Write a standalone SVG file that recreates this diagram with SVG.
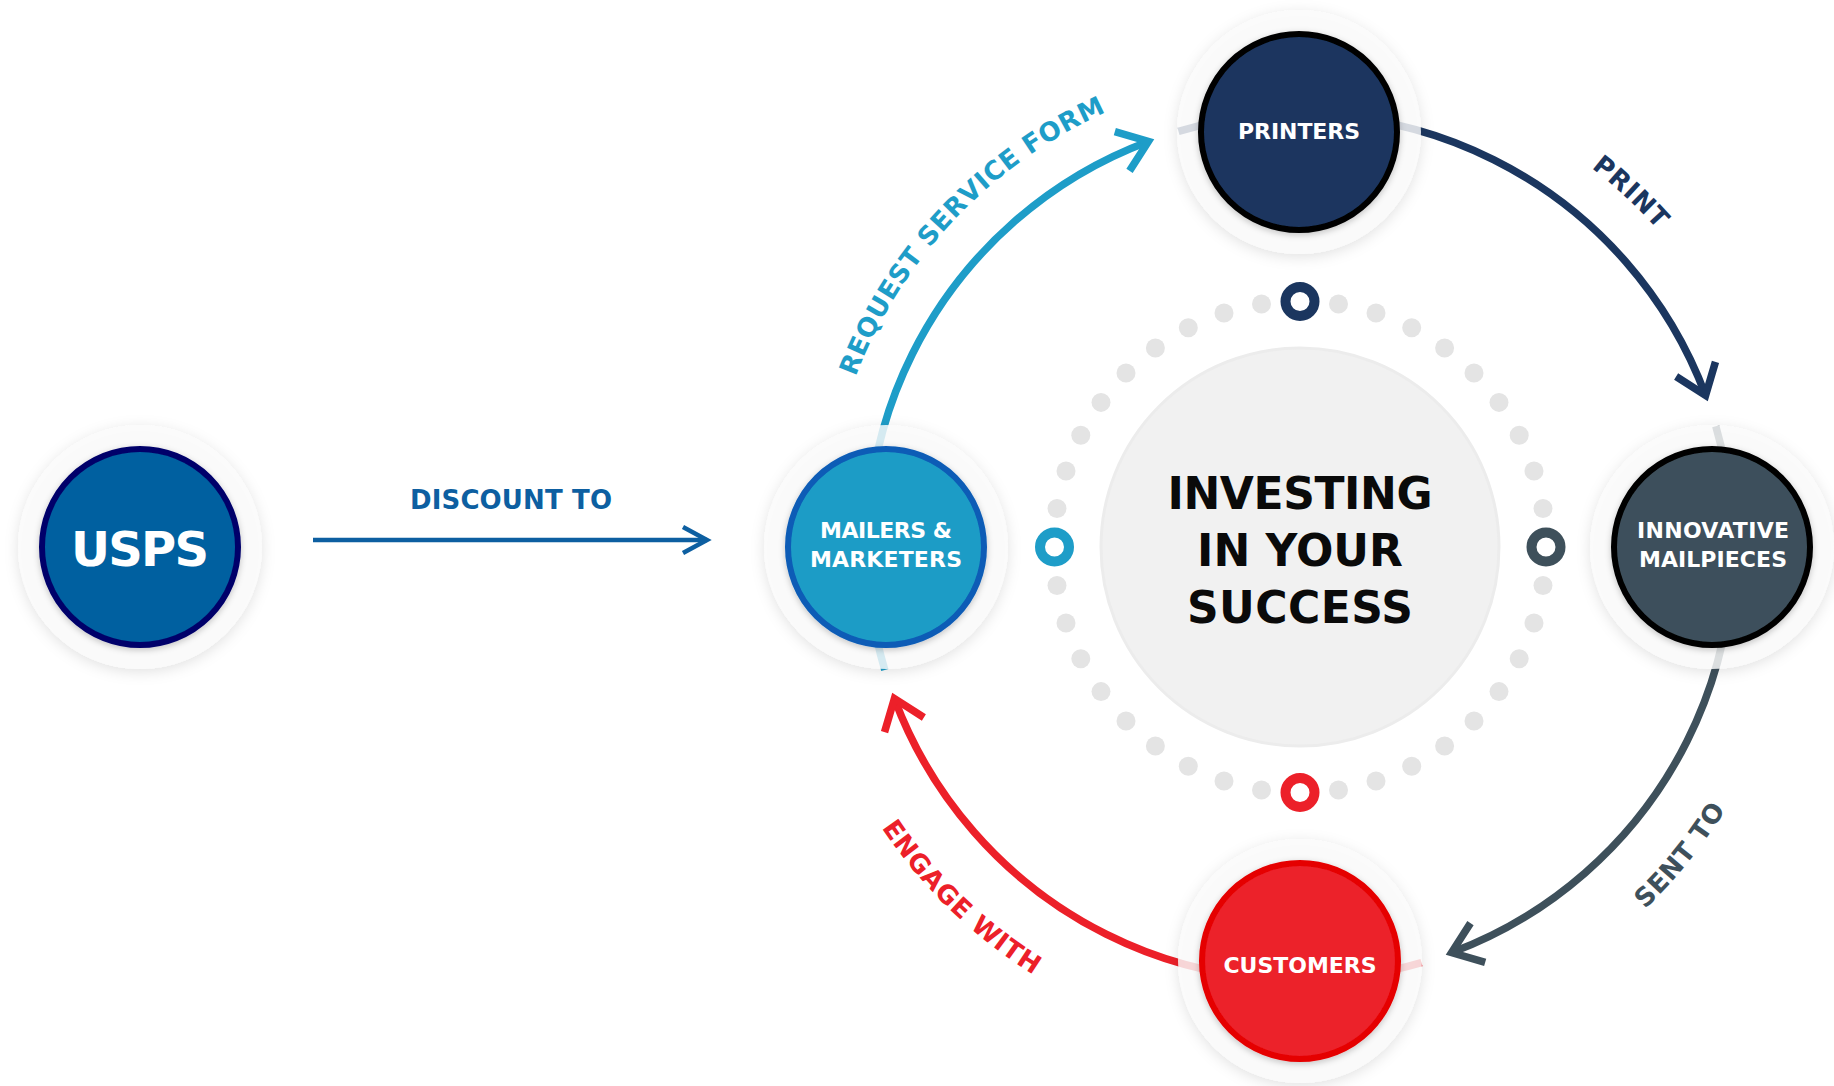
<svg xmlns="http://www.w3.org/2000/svg" xmlns:xlink="http://www.w3.org/1999/xlink" width="1834" height="1086" viewBox="0 0 1834 1086">
<style>
  .halo { fill: #fbfbfb; fill-opacity: 0.82; filter: url(#haloShadow); }
  .core { stroke-width: 6; filter: url(#coreShadow); }
  .lbl { font-family: "DejaVu Sans", "Liberation Sans", sans-serif; font-weight: bold; fill: #ffffff; text-anchor: middle; font-size: 22px; }
  .hub { font-family: "DejaVu Sans", "Liberation Sans", sans-serif; font-weight: bold; fill: #0a0a0a; text-anchor: middle; font-size: 44px; }
  .arc { fill: none; stroke-width: 7.5; stroke-linecap: butt; }
  .arclbl { font-family: "DejaVu Sans", "Liberation Sans", sans-serif; font-weight: bold; font-size: 26px; letter-spacing: 0.6px; text-anchor: middle; }
  .dot { fill: #e4e4e4; }
  .ring { fill: #ffffff; stroke-width: 10; }
</style>
<defs>
  <filter id="haloShadow" x="-30%" y="-30%" width="160%" height="160%">
    <feDropShadow dx="0" dy="3" stdDeviation="7" flood-color="#000000" flood-opacity="0.14"/>
  </filter>
  <filter id="coreShadow" x="-20%" y="-20%" width="140%" height="140%">
    <feDropShadow dx="0" dy="2" stdDeviation="3" flood-color="#000000" flood-opacity="0.22"/>
  </filter>
  <marker id="mBlue" markerUnits="userSpaceOnUse" orient="auto" markerWidth="80" markerHeight="80" refX="0" refY="0" viewBox="-40 -40 80 80" overflow="visible">
    <path d="M -28 -21 L 0 0 L -28 21" fill="none" stroke="#1e9dc8" stroke-width="7.5"/>
  </marker>
  <marker id="mNavy" markerUnits="userSpaceOnUse" orient="auto" markerWidth="80" markerHeight="80" refX="0" refY="0" viewBox="-40 -40 80 80" overflow="visible">
    <path d="M -28 -21 L 0 0 L -28 21" fill="none" stroke="#1b365f" stroke-width="7.5"/>
  </marker>
  <marker id="mSlate" markerUnits="userSpaceOnUse" orient="auto" markerWidth="80" markerHeight="80" refX="0" refY="0" viewBox="-40 -40 80 80" overflow="visible">
    <path d="M -28 -21 L 0 0 L -28 21" fill="none" stroke="#3e505b" stroke-width="7.5"/>
  </marker>
  <marker id="mRed" markerUnits="userSpaceOnUse" orient="auto" markerWidth="80" markerHeight="80" refX="0" refY="0" viewBox="-40 -40 80 80" overflow="visible">
    <path d="M -28 -21 L 0 0 L -28 21" fill="none" stroke="#ec2029" stroke-width="7.5"/>
  </marker>
  <marker id="mDisc" markerUnits="userSpaceOnUse" orient="auto" markerWidth="60" markerHeight="60" refX="0" refY="0" viewBox="-30 -30 60 60" overflow="visible">
    <path d="M -24 -13 L 0 0 L -24 13" fill="none" stroke="#0d5fa1" stroke-width="4.5"/>
  </marker>
  <path id="tpRequest" d="M 824.2 559.5 A 476 476 0 0 1 1287.5 71.2"/>
  <path id="tpPrint" d="M 1283.3 69.3 A 478 478 0 0 1 1777.7 530.3"/>
  <path id="tpSent" d="M 1352.3 1044.3 A 500 500 0 0 0 1797.3 494.7"/>
  <path id="tpEngage" d="M 796.1 555.8 A 504 504 0 0 0 1308.8 1050.9"/>
</defs>

<g id="hub">
  <circle cx="1300" cy="547" r="199" fill="#f1f1f1" stroke="#ececec" stroke-width="3"/>
  <text class="hub" x="1300" y="509" textLength="265">INVESTING</text>
  <text class="hub" x="1300" y="566" textLength="206">IN YOUR</text>
  <text class="hub" x="1300" y="623" textLength="226">SUCCESS</text>
</g>

<g id="dots">
  <circle class="dot" cx="1543" cy="585.5" r="9.5"/><circle class="dot" cx="1534" cy="623" r="9.5"/><circle class="dot" cx="1519.2" cy="658.7" r="9.5"/><circle class="dot" cx="1499" cy="691.6" r="9.5"/><circle class="dot" cx="1474" cy="721" r="9.5"/><circle class="dot" cx="1444.6" cy="746" r="9.5"/><circle class="dot" cx="1411.7" cy="766.2" r="9.5"/><circle class="dot" cx="1376" cy="781" r="9.5"/><circle class="dot" cx="1338.5" cy="790" r="9.5"/>
  <circle class="dot" cx="1057" cy="585.5" r="9.5"/><circle class="dot" cx="1066" cy="623" r="9.5"/><circle class="dot" cx="1080.8" cy="658.7" r="9.5"/><circle class="dot" cx="1101" cy="691.6" r="9.5"/><circle class="dot" cx="1126" cy="721" r="9.5"/><circle class="dot" cx="1155.4" cy="746" r="9.5"/><circle class="dot" cx="1188.3" cy="766.2" r="9.5"/><circle class="dot" cx="1224" cy="781" r="9.5"/><circle class="dot" cx="1261.5" cy="790" r="9.5"/>
  <circle class="dot" cx="1057" cy="508.5" r="9.5"/><circle class="dot" cx="1066" cy="471" r="9.5"/><circle class="dot" cx="1080.8" cy="435.3" r="9.5"/><circle class="dot" cx="1101" cy="402.4" r="9.5"/><circle class="dot" cx="1126" cy="373" r="9.5"/><circle class="dot" cx="1155.4" cy="348" r="9.5"/><circle class="dot" cx="1188.3" cy="327.8" r="9.5"/><circle class="dot" cx="1224" cy="313" r="9.5"/><circle class="dot" cx="1261.5" cy="304" r="9.5"/>
  <circle class="dot" cx="1543" cy="508.5" r="9.5"/><circle class="dot" cx="1534" cy="471" r="9.5"/><circle class="dot" cx="1519.2" cy="435.3" r="9.5"/><circle class="dot" cx="1499" cy="402.4" r="9.5"/><circle class="dot" cx="1474" cy="373" r="9.5"/><circle class="dot" cx="1444.6" cy="348" r="9.5"/><circle class="dot" cx="1411.7" cy="327.8" r="9.5"/><circle class="dot" cx="1376" cy="313" r="9.5"/><circle class="dot" cx="1338.5" cy="304" r="9.5"/>
  <circle class="ring" cx="1300" cy="301.5" r="14.5" stroke="#1b365f"/>
  <circle class="ring" cx="1546" cy="547" r="14.5" stroke="#3e505b"/>
  <circle class="ring" cx="1300" cy="792.5" r="14.5" stroke="#ec2029"/>
  <circle class="ring" cx="1054.5" cy="547" r="14.5" stroke="#1e9dc8"/>
</g>

<g id="connectors">
  <path class="arc" d="M 884.8 670 A 433 433 0 0 1 1148.4 141.4" stroke="#1e9dc8" marker-end="url(#mBlue)"/>
  <path class="arc" d="M 1178.5 131.4 A 433 433 0 0 1 1705.6 395.4" stroke="#1b365f" marker-end="url(#mNavy)"/>
  <path class="arc" d="M 1715.8 426.2 A 433 433 0 0 1 1451.6 952.6" stroke="#3e505b" marker-end="url(#mSlate)"/>
  <path class="arc" d="M 1421.5 962.6 A 433 433 0 0 1 894.4 698.6" stroke="#ec2029" marker-end="url(#mRed)"/>
  <line x1="313" y1="540" x2="707" y2="540" stroke="#0d5fa1" stroke-width="4.5" marker-end="url(#mDisc)"/>
  <text class="arclbl" fill="#0d5fa1" x="511" y="509" textLength="202" style="letter-spacing:0">DISCOUNT TO</text>
  <text class="arclbl" fill="#1e9dc8"><textPath href="#tpRequest" startOffset="50%">REQUEST SERVICE FORM</textPath></text>
  <text class="arclbl" fill="#1b365f"><textPath href="#tpPrint" startOffset="50%">PRINT</textPath></text>
  <text class="arclbl" fill="#3e505b"><textPath href="#tpSent" startOffset="50%">SENT TO</textPath></text>
  <text class="arclbl" fill="#ec2029"><textPath href="#tpEngage" startOffset="50%">ENGAGE WITH</textPath></text>
</g>

<g id="node-usps">
  <circle class="halo" cx="140" cy="547" r="122"/>
  <circle class="core" cx="140" cy="547" r="98" fill="#0060a0" stroke="#06066a"/>
  <text class="lbl" x="140" y="566" style="font-size:48px" textLength="138">USPS</text>
</g>

<g id="node-mailers">
  <circle class="halo" cx="886" cy="547" r="122"/>
  <circle class="core" cx="886" cy="547" r="98" fill="#1e9cc6" stroke="#0b5cb6"/>
  <text class="lbl" x="886" y="538" textLength="132">MAILERS &amp;</text>
  <text class="lbl" x="886" y="567" textLength="152">MARKETERS</text>
</g>

<g id="node-printers">
  <circle class="halo" cx="1299" cy="132" r="122"/>
  <circle class="core" cx="1299" cy="132" r="98" fill="#1b365f" stroke="#000000"/>
  <text class="lbl" x="1299" y="139" textLength="122">PRINTERS</text>
</g>

<g id="node-mailpieces">
  <circle class="halo" cx="1712" cy="547" r="122"/>
  <circle class="core" cx="1712" cy="547" r="98" fill="#3e505b" stroke="#000000"/>
  <text class="lbl" x="1713" y="538" textLength="152">INNOVATIVE</text>
  <text class="lbl" x="1713" y="567" textLength="148">MAILPIECES</text>
</g>

<g id="node-customers">
  <circle class="halo" cx="1300" cy="961" r="122"/>
  <circle class="core" cx="1300" cy="961" r="98" fill="#ec2029" stroke="#e50000"/>
  <text class="lbl" x="1300" y="973" textLength="153">CUSTOMERS</text>
</g>
</svg>
